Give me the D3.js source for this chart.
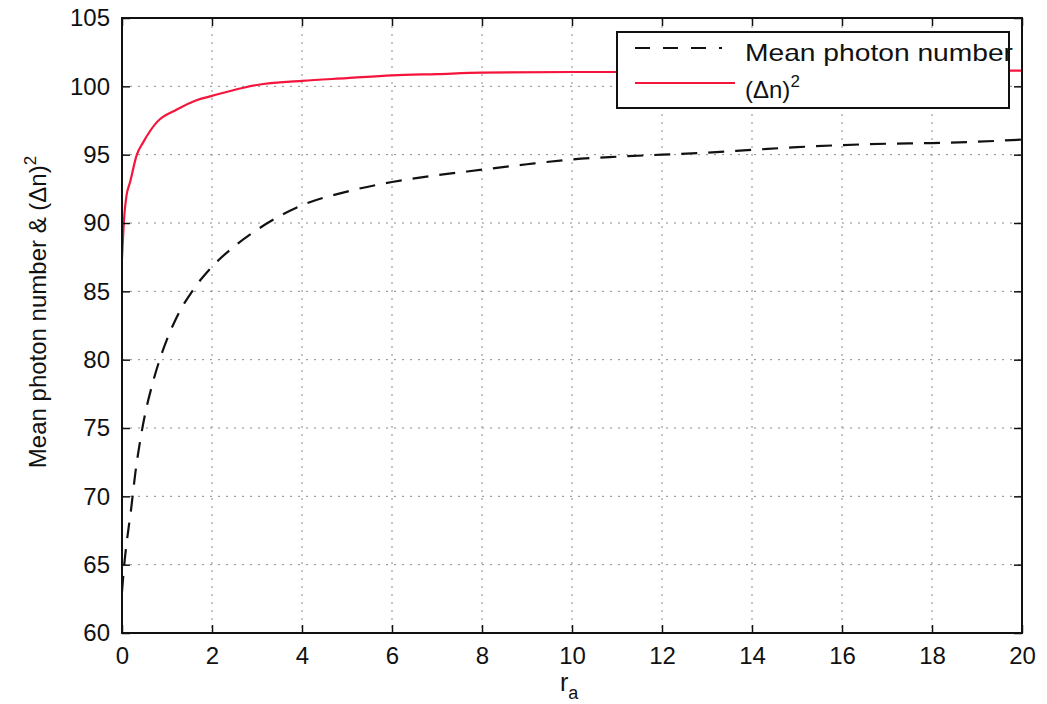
<!DOCTYPE html>
<html>
<head>
<meta charset="utf-8">
<script src="https://cdn.jsdelivr.net/npm/d3@7"></script>
<style>
  body { margin: 0; background: #fff; }
  text { font-family: "Liberation Sans", Arial, Helvetica, sans-serif; fill: #111; }
</style>
</head>
<body>
<svg width="1047" height="704"></svg>
<script>
const svg = d3.select("svg");

// data
const meanX = [0, 0.05, 0.1, 0.2, 0.3, 0.4, 0.5, 0.7, 0.9, 1.2, 1.6, 2.0, 2.5, 3.0, 3.5, 4, 5, 6, 7, 8, 9, 10, 11, 12, 13, 14, 15, 16, 17, 18, 19, 20];
const meanY = [63, 65, 66.5, 69, 71.8, 74.0, 75.8, 78.5, 80.6, 83, 85.2, 86.8, 88.3, 89.5, 90.5, 91.3, 92.3, 93.0, 93.5, 93.9, 94.3, 94.65, 94.85, 95.0, 95.15, 95.35, 95.55, 95.7, 95.8, 95.85, 95.95, 96.1];
const varX = [0, 0.05, 0.1, 0.18, 0.33, 0.47, 0.78, 1.22, 1.67, 2.0, 2.7, 3.0, 4, 5, 6, 7, 8, 10, 12, 14, 16, 18, 20];
const varY = [87.4, 90.5, 92.0, 93.0, 95.0, 95.9, 97.4, 98.3, 99.0, 99.3, 99.9, 100.1, 100.4, 100.6, 100.8, 100.9, 101.0, 101.05, 101.05, 101.1, 101.1, 101.15, 101.15];
const xTicks = [0, 2, 4, 6, 8, 10, 12, 14, 16, 18, 20];
const yTicks = [60, 65, 70, 75, 80, 85, 90, 95, 100, 105];

const pLeft = 122, pRight = 1022, pTop = 18, pBottom = 633;

const x = d3.scaleLinear().domain([0, 20]).range([pLeft, pRight]);
const y = d3.scaleLinear().domain([60, 105]).range([pBottom, pTop]);

// grid
const grid = svg.append("g").attr("stroke", "#8a8a8a").attr("stroke-width", 1).attr("stroke-dasharray", "2,6");
grid.selectAll(".gx").data(xTicks.slice(1, -1)).join("line")
  .attr("x1", d => x(d)).attr("x2", d => x(d)).attr("y1", pTop).attr("y2", pBottom);
grid.selectAll(".gy").data(yTicks.slice(1, -1)).join("line")
  .attr("x1", pLeft).attr("x2", pRight).attr("y1", d => y(d)).attr("y2", d => y(d));

// curves
svg.append("clipPath").attr("id", "clip").append("rect")
  .attr("x", pLeft).attr("y", pTop).attr("width", pRight - pLeft).attr("height", pBottom - pTop);

const line = d3.line().x(d => x(d[0])).y(d => y(d[1])).curve(d3.curveMonotoneX);

svg.append("path")
  .datum(meanX.map((v, i) => [v, meanY[i]]))
  .attr("clip-path", "url(#clip)")
  .attr("d", line)
  .attr("fill", "none")
  .attr("stroke", "#111")
  .attr("stroke-width", 2.2)
  .attr("stroke-dasharray", "16,11");

svg.append("path")
  .datum(varX.map((v, i) => [v, varY[i]]))
  .attr("clip-path", "url(#clip)")
  .attr("d", line)
  .attr("fill", "none")
  .attr("stroke", "#f5143c")
  .attr("stroke-width", 2.2);

// axes (matlab style: ticks inside on all sides)
const tl = 8;
svg.append("g").attr("transform", `translate(0,${pBottom})`)
  .call(d3.axisBottom(x).tickValues(xTicks).tickSize(-tl).tickPadding(14))
  .call(g => g.select(".domain").remove());
svg.append("g").attr("transform", `translate(0,${pTop})`)
  .call(d3.axisTop(x).tickValues(xTicks).tickSize(-tl).tickFormat(""))
  .call(g => g.select(".domain").remove());
svg.append("g").attr("transform", `translate(${pLeft},0)`)
  .call(d3.axisLeft(y).tickValues(yTicks).tickSize(-tl).tickPadding(12))
  .call(g => g.select(".domain").remove());
svg.append("g").attr("transform", `translate(${pRight},0)`)
  .call(d3.axisRight(y).tickValues(yTicks).tickSize(-tl).tickFormat(""))
  .call(g => g.select(".domain").remove());

svg.selectAll(".tick line").attr("stroke", "#111").attr("stroke-width", 1.5);
svg.selectAll(".tick text").attr("font-size", 24).attr("fill", "#111")
  .attr("font-family", "Liberation Sans, Arial, sans-serif");

svg.append("rect")
  .attr("x", pLeft).attr("y", pTop).attr("width", pRight - pLeft).attr("height", pBottom - pTop)
  .attr("fill", "none").attr("stroke", "#111").attr("stroke-width", 2);

// axis labels
const xl = svg.append("text").attr("x", 560).attr("y", 691).attr("font-size", 25);
xl.append("tspan").text("r");
xl.append("tspan").attr("font-size", 18).attr("dy", 8).text("a");

const yl = svg.append("text")
  .attr("transform", "translate(46,312) rotate(-90)")
  .attr("text-anchor", "middle")
  .attr("font-size", 24);
yl.append("tspan").text("Mean photon number & (\u0394n)");
yl.append("tspan").attr("font-size", 17).attr("dy", -10).text("2");

// legend
const lg = svg.append("g");
lg.append("rect").attr("x", 617).attr("y", 32).attr("width", 392).attr("height", 76)
  .attr("fill", "#fff").attr("stroke", "#111").attr("stroke-width", 2);
lg.append("line").attr("x1", 635).attr("x2", 722).attr("y1", 48).attr("y2", 48)
  .attr("stroke", "#111").attr("stroke-width", 2).attr("stroke-dasharray", "15,13");
lg.append("line").attr("x1", 635).attr("x2", 735).attr("y1", 83).attr("y2", 83)
  .attr("stroke", "#f5143c").attr("stroke-width", 2);
lg.append("text").attr("x", 745).attr("y", 61).attr("font-size", 24)
  .attr("textLength", 268).attr("lengthAdjust", "spacingAndGlyphs")
  .text("Mean photon number");
const l2 = lg.append("text").attr("x", 745).attr("y", 98).attr("font-size", 24);
l2.append("tspan").text("(\u0394n)");
l2.append("tspan").attr("font-size", 17).attr("dy", -11).text("2");
</script>
</body>
</html>
